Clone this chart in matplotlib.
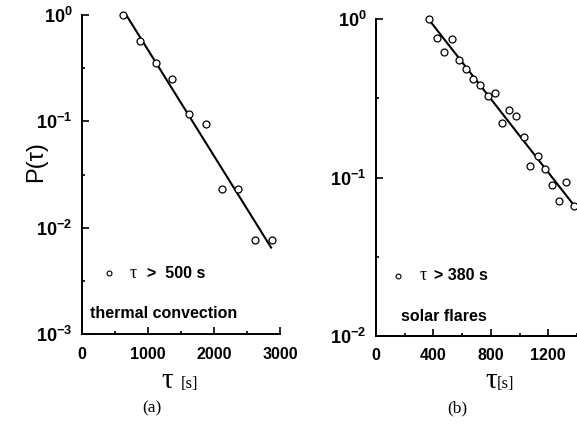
import numpy as np
import matplotlib
matplotlib.use("Agg")
import matplotlib.pyplot as plt
from matplotlib.ticker import LogLocator, MultipleLocator, FuncFormatter, NullFormatter

plt.rcParams['font.family'] = ['Liberation Sans', 'DejaVu Sans']
plt.rcParams['mathtext.fontset'] = 'custom'
plt.rcParams['mathtext.rm'] = 'Liberation Sans'
plt.rcParams['mathtext.bf'] = 'Liberation Sans:bold'

# (a) thermal convection
tau_a = [625, 885, 1120, 1370, 1620, 1875, 2120, 2370, 2620, 2875]
p_a = [1.0, 0.573, 0.356, 0.250, 0.117, 0.094, 0.0232, 0.0232, 0.0077, 0.0077]
fit_tau_a = [617, 2874]
fit_p_a = [1.13, 0.0064]

# (b) solar flares
tau_b = [370, 425, 475, 528, 576, 625, 675, 726, 777, 826, 877,
         928, 977, 1028, 1075, 1126, 1177, 1228, 1277, 1326, 1377]
p_b = [1.0, 0.762, 0.622, 0.745, 0.550, 0.484, 0.418, 0.383, 0.325, 0.341, 0.222,
       0.265, 0.245, 0.179, 0.1187, 0.137, 0.113, 0.0897, 0.0708, 0.094, 0.066]
fit_tau_b = [365, 1372]
fit_p_b = [1.0, 0.068]

W, H = 577, 425
fig = plt.figure(figsize=(W / 100, H / 100), dpi=100)


def px(x, y):
    # pixel position -> figure fraction
    return x / W, 1 - y / H


def style_axes(ax, xmax, xmajor, ymin):
    ax.set_yscale('log')
    ax.set_xlim(0, xmax)
    ax.set_ylim(ymin, 1)
    for s in ['top', 'right']:
        ax.spines[s].set_visible(False)
    for s in ['left', 'bottom']:
        ax.spines[s].set_linewidth(1.4)
    ax.xaxis.set_major_locator(MultipleLocator(xmajor))
    ax.xaxis.set_minor_locator(MultipleLocator(xmajor / 2))
    ax.yaxis.set_major_locator(LogLocator(base=10, numticks=10))
    ax.yaxis.set_minor_locator(LogLocator(base=10, subs=[10 ** 0.5], numticks=10))
    ax.yaxis.set_minor_formatter(NullFormatter())
    ax.yaxis.set_major_formatter(FuncFormatter(
        lambda v, pos: r'$\mathbf{10^{%d}}$' % round(np.log10(v))))
    ax.tick_params(which='major', direction='in', length=5, width=1.2)
    ax.tick_params(which='minor', direction='in', length=2.5, width=1.2)
    ax.tick_params(axis='x', pad=9, labelsize=11.5)
    ax.tick_params(axis='y', pad=7, labelsize=13)
    for lab in ax.get_xticklabels():
        lab.set_fontweight('bold')


ax_a = fig.add_axes([82 / W, 1 - 334.3 / H, 198 / W, 319.3 / H])
ax_a.plot(fit_tau_a, fit_p_a, color='black', lw=1.5, solid_capstyle='butt')
ax_a.plot(tau_a, p_a, 'o', ms=5, mfc='white', mec='black', mew=0.9, clip_on=False)
style_axes(ax_a, 3000, 1000, 1e-3)
ax_a.set_xticks([0, 1000, 2000, 3000])
ax_a.plot([0.135], [0.191], 'o', ms=3.5, mfc='white', mec='black', mew=0.8,
          transform=ax_a.transAxes, clip_on=False)
ax_a.text(0.242, 0.191, '\u03c4', family='Liberation Serif', fontsize=13,
          transform=ax_a.transAxes, va='center')
ax_a.text(0.33, 0.191, '>  500 s', fontsize=11.5, fontweight='bold',
          transform=ax_a.transAxes, va='center')
ax_a.text(0.04, 0.066, 'thermal convection', fontsize=11.5, fontweight='bold',
          transform=ax_a.transAxes, va='center')

ax_b = fig.add_axes([376 / W, 1 - 336 / H, 201 / W, 317 / H])
ax_b.plot(fit_tau_b, fit_p_b, color='black', lw=1.5, solid_capstyle='butt')
ax_b.plot(tau_b, p_b, 'o', ms=5, mfc='white', mec='black', mew=0.9, clip_on=False)
style_axes(ax_b, 1400, 400, 1e-2)
ax_b.set_xticks([0, 400, 800, 1200])
ax_b.plot([0.11], [0.19], 'o', ms=3.5, mfc='white', mec='black', mew=0.8,
          transform=ax_b.transAxes, clip_on=False)
ax_b.text(0.219, 0.19, '\u03c4', family='Liberation Serif', fontsize=13,
          transform=ax_b.transAxes, va='center')
ax_b.text(0.29, 0.19, '> 380 s', fontsize=11.5, fontweight='bold',
          transform=ax_b.transAxes, va='center')
ax_b.text(0.123, 0.061, 'solar flares', fontsize=11.5, fontweight='bold',
          transform=ax_b.transAxes, va='center')

# axis labels drawn as figure text
fig.text(*px(36, 162), 'P(\u03c4)', fontsize=17, rotation=90, ha='center', va='center')
fig.text(*px(167, 388), '\u03c4', family='Liberation Serif', fontsize=21, ha='center', va='baseline')
fig.text(*px(189, 388), '[s]', family='Liberation Serif', fontsize=12, ha='center', va='baseline')
fig.text(*px(491, 388), '\u03c4', family='Liberation Serif', fontsize=21, ha='center', va='baseline')
fig.text(*px(505, 388), '[s]', family='Liberation Serif', fontsize=12, ha='center', va='baseline')
fig.text(*px(152, 408), '(a)', family='Liberation Serif', fontsize=12.5, ha='center', va='center')
fig.text(*px(457, 408), '(b)', family='Liberation Serif', fontsize=12.5, ha='center', va='center')

fig.savefig('out.png', dpi=100)
